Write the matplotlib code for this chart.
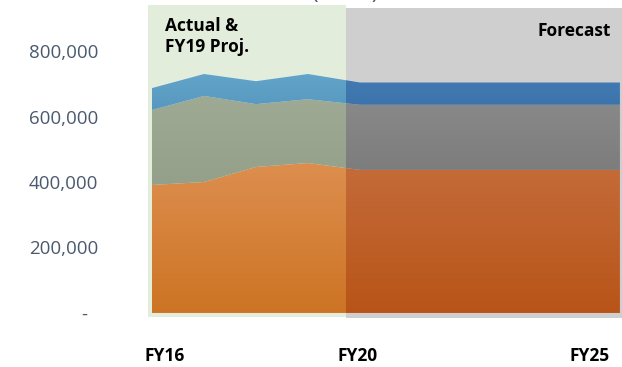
import matplotlib.pyplot as plt
import numpy as np
from matplotlib.patches import Rectangle, Polygon
from matplotlib.ticker import FuncFormatter

# FY16 .. FY25
years = ["FY16", "FY17", "FY18", "FY19", "FY20", "FY21", "FY22", "FY23", "FY24", "FY25"]
orange_vals = [391000, 400000, 446000, 458000, 437000, 437000, 437000, 437000, 437000, 437000]
gray_vals = [229000, 263000, 192000, 195000, 199000, 199000, 199000, 199000, 199000, 199000]
blue_vals = [67000, 67000, 70000, 77000, 68000, 68000, 68000, 68000, 68000, 68000]

ytick_vals = [0, 200000, 400000, 600000, 800000]
xlabel_text = ["FY16", "FY20", "FY25"]
xlabel_pos = [0.25, 3.96, 8.42]
split = 3.73  # boundary between actual and forecast shading

# (top colour, bottom colour) for actual / forecast part of each layer
layer_colors = {
    "orange": (((221, 142, 78), (205, 116, 36)), ((196, 108, 58), (184, 84, 24))),
    "gray": (((158, 170, 148), (148, 160, 138)), ((138, 138, 138), (122, 122, 122))),
    "blue": (((98, 164, 202), (88, 152, 192)), ((66, 124, 180), (60, 114, 170))),
}


def gradient_fill(ax, x, y1, y2, c_top, c_bot, x0, x1):
    verts = np.vstack([np.column_stack([x, y2]), np.column_stack([x[::-1], y1[::-1]])])
    poly = Polygon(verts, closed=True, facecolor="none", edgecolor="none")
    ax.add_patch(poly)
    t = np.linspace(0, 1, 256)[:, None]
    c_top = np.array(c_top) / 255.0
    c_bot = np.array(c_bot) / 255.0
    grad = (c_bot * (1 - t) + c_top * t)[:, None, :]
    ylo, yhi = min(y1), max(y2)
    img = ax.imshow(grad, extent=[x0, x1, ylo, yhi], aspect="auto",
                    origin="lower", zorder=2, interpolation="bilinear")
    img.set_clip_path(poly)


fig = plt.figure(figsize=(6.22, 3.67), dpi=100)
ax = fig.add_axes([148 / 622, 47.5 / 367, 474 / 622, 317.5 / 367])

x = np.arange(len(years))
xmin, xmax = -0.077, 9.04
ymin, ymax = -20000, 950000

# background shading
ax.add_patch(Rectangle((xmin, -13000), split - xmin, 953000, color="#e2eedb", lw=0, zorder=0))
ax.add_patch(Rectangle((split, -15000), xmax - split, 946000, color="#cfcfcf", lw=0, zorder=0))

o = np.array(orange_vals)
g = o + np.array(gray_vals)
b = g + np.array(blue_vals)
layers = [("orange", np.zeros_like(o), o), ("gray", o, g), ("blue", g, b)]
for name, lo, hi in layers:
    (a_top, a_bot), (f_top, f_bot) = layer_colors[name]
    gradient_fill(ax, x, lo, hi, a_top, a_bot, xmin, split)
    gradient_fill(ax, x, lo, hi, f_top, f_bot, split, xmax)

ax.set_xlim(xmin, xmax)
ax.set_ylim(ymin, ymax)

ax.set_yticks(ytick_vals)
ax.yaxis.set_major_formatter(FuncFormatter(lambda v, p: "-  " if v == 0 else f"{v:,.0f}"))
ax.tick_params(axis="y", length=0, pad=36, labelsize=13.5, labelcolor="#4a5a6e")
ax.set_xticks(xlabel_pos)
ax.set_xticklabels(xlabel_text, fontweight="bold", fontsize=12.5)
ax.tick_params(axis="x", length=0, pad=20)
for lab in ax.get_yticklabels() + ax.get_xticklabels():
    lab.set_family("Open Sans")
for s in ax.spines.values():
    s.set_visible(False)

ax.text(0.25, 904000, "Actual &\nFY19 Proj.", ha="left", va="top", fontsize=12.5,
        fontweight="bold", family="Open Sans", zorder=5, linespacing=1.2)
ax.text(8.82, 889000, "Forecast", ha="right", va="top", fontsize=12.5,
        fontweight="bold", family="Open Sans", zorder=5)

# title sits mostly above the figure edge, as in the reference
fig.text(0.555, 1.0 + 1 / 367, "(Units)", ha="center", va="baseline", fontsize=16,
         color="#4a5a6e", family="Open Sans")

fig.savefig("out.png", dpi=100)
